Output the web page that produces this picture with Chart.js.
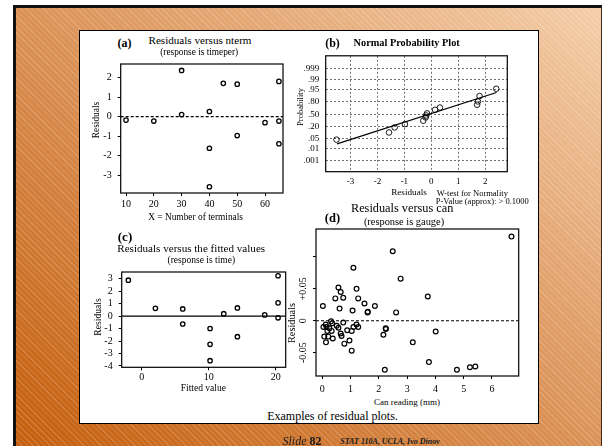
<!DOCTYPE html>
<html><head><meta charset="utf-8">
<script src="https://cdn.jsdelivr.net/npm/chart.js@4.4.0/dist/chart.umd.min.js"></script>
<style>
html,body{margin:0;padding:0;background:#fff;}
#root{position:relative;width:602px;height:446px;overflow:hidden;background:#fff;font-family:"Liberation Serif","Times New Roman",serif;color:#000;}
#slide{position:absolute;left:13px;top:5px;width:589px;height:441px;box-sizing:border-box;border-left:3px solid #111;border-top:3px solid #111;border-right:1px solid #3a2a20;
background:repeating-linear-gradient(45deg, rgba(255,255,255,0.17) 0px, rgba(255,255,255,0.17) 1px, rgba(255,255,255,0) 1px, rgba(255,255,255,0) 4px),
linear-gradient(to top right, #C55E0C 0%, #DB9257 50%, #F4CDA8 100%);}
#panel{position:absolute;left:79px;top:30px;width:460px;height:394px;box-sizing:border-box;background:#fff;border:1px solid #000;}
canvas{position:absolute;}
.t{position:absolute;white-space:nowrap;line-height:1;transform:translate(-50%,-50%);}
.r{transform:translate(-50%,-50%) rotate(-90deg);}
.b{font-weight:bold;}
</style></head>
<body>
<div id="root">
<div id="slide"></div>
<div id="panel"></div>

<canvas id="cA" width="196" height="162" style="left:96px;top:52px"></canvas>
<canvas id="cB" width="220" height="146" style="left:300px;top:44px"></canvas>
<canvas id="cC" width="196" height="124" style="left:96px;top:260px"></canvas>
<canvas id="cD" width="234" height="174" style="left:296px;top:222px"></canvas>

<div class="t b" style="left:124.5px;top:42.5px;font-size:12px">(a)</div>
<div class="t" style="left:200px;top:40.7px;font-size:11.1px">Residuals versus nterm</div>
<div class="t" style="left:199.2px;top:53.3px;font-size:9.3px">(response is timeper)</div>
<div class="t r" style="left:97px;top:120px;font-size:9.4px">Residuals</div>
<div class="t" style="left:195.6px;top:217.5px;font-size:9.4px">X = Number of terminals</div>

<div class="t b" style="left:332.5px;top:42.7px;font-size:12px">(b)</div>
<div class="t b" style="left:406.7px;top:42.7px;font-size:10.3px">Normal Probability Plot</div>
<div class="t r" style="left:300px;top:106.7px;font-size:8.5px">Probability</div>
<div class="t" style="left:409px;top:192.7px;font-size:9.2px">Residuals</div>
<div class="t" style="left:472.3px;top:192.7px;font-size:8.5px">W-test for Normality</div>
<div class="t" style="left:482.3px;top:201px;font-size:8.5px">P-Value (approx): &gt; 0.1000</div>

<div class="t b" style="left:125px;top:235.7px;font-size:13px">(c)</div>
<div class="t" style="left:191.2px;top:248.7px;font-size:11.1px">Residuals versus the fitted values</div>
<div class="t" style="left:201.3px;top:261.3px;font-size:9.5px">(response is time)</div>
<div class="t r" style="left:98.3px;top:316.7px;font-size:9.6px">Residuals</div>
<div class="t" style="left:203.3px;top:388.7px;font-size:9.5px">Fitted value</div>

<div class="t" style="left:402.2px;top:208.3px;font-size:12.3px">Residuals versus can</div>
<div class="t b" style="left:332.5px;top:218.3px;font-size:12.5px">(d)</div>
<div class="t" style="left:404px;top:221.7px;font-size:10.4px">(response is gauge)</div>
<div class="t r" style="left:292px;top:323.3px;font-size:10.3px">Residuals</div>
<div class="t" style="left:407px;top:402.3px;font-size:9px">Can reading (mm)</div>

<div class="t" style="left:332.5px;top:416px;font-size:12px">Examples of residual plots.</div>
<div class="t" style="left:302px;top:441px;font-size:12px;color:#1a1a1a"><i>Slide</i> <b>82</b></div>
<div class="t" style="left:390px;top:442px;font-size:8px;font-weight:bold;font-style:italic;color:#1a1a1a">STAT 110A, UCLA, Ivo Dinov</div>
</div>

<script>
// ---------- (a) Residuals versus nterm ----------
const aTerminals = [10, 20, 30, 30, 40, 40, 40, 45, 50, 50, 60, 65, 65, 65];
const aResiduals = [-0.18, -0.23, 2.36, 0.10, 0.26, -1.62, -3.59, 1.70, 1.66, -0.97, -0.31, 1.80, -0.23, -1.39];
const aXTicks = [10, 20, 30, 40, 50, 60];
const aYTicks = [-3, -2, -1, 0, 1, 2];

// ---------- (b) Normal probability plot ----------
const bResiduals   = [-3.52, -1.57, -1.36, -0.98, -0.30, -0.21, -0.19, -0.16, 0.14, 0.32, 1.70, 1.73, 1.79, 2.41];
const bNormalScore = [-1.70, -1.22, -0.88, -0.66, -0.43, -0.21, -0.08, 0.06, 0.30, 0.45, 0.64, 0.86, 1.22, 1.71];
const bFitX = [-3.50, 2.42];
const bFitZ = [-1.99, 1.46];
const bXTicks = [-3, -2, -1, 0, 1, 2];
const bProbTicks = [0.001, 0.01, 0.05, 0.20, 0.50, 0.80, 0.95, 0.99, 0.999];
const bProbLabels = [".001", ".01", ".05", ".20", ".50", ".80", ".95", ".99", ".999"];

// ---------- (c) Residuals versus fitted values ----------
const cFitted    = [-2.0, 2.04, 6.12, 6.12, 10.2, 10.2, 10.2, 12.24, 14.28, 14.28, 18.36, 20.35, 20.35, 20.35];
const cResiduals = [2.89, 0.63, 0.58, -0.63, -0.99, -2.26, -3.58, 0.20, 0.66, -1.65, 0.10, 3.25, 1.07, -0.13];
const cXTicks = [0, 10, 20];
const cYTicks = [-4, -3, -2, -1, 0, 1, 2, 3];

// ---------- (d) Residuals versus can ----------
const dCan = [6.69, 2.49, 1.10, 2.77, 0.57, 0.65, 1.21, 0.46, 0.74, 1.27, 3.73, 0.02, 0.61, 1.07, 1.49, 1.86, 1.60, 1.61, 2.61,
  0.31, 0.74, 0.51, 0.04, 0.12, 0.25, 0.57, 0.33, 0.18, 0.07, 0.21, 0.37, 0.13, 0.65, 0.68, 0.78, 0.88, 1.04, 1.10, 1.21, 1.27,
  0.96, 1.04, 2.16, 2.24, 2.25, 2.21, 3.20, 4.01, 3.77, 4.76, 5.22, 5.41, 0.35, 0.15];
const dResiduals = [0.132, 0.109, 0.083, 0.066, 0.052, 0.045, 0.050, 0.035, 0.036, 0.035, 0.038, 0.023, 0.019, 0.016, 0.027, 0.023, 0.013, 0.014, 0.013,
  -0.001, -0.003, -0.008, -0.010, -0.006, -0.012, -0.011, -0.016, -0.016, -0.025, -0.025, -0.028, -0.034, -0.020, -0.024, -0.036, -0.015, -0.016, -0.010, -0.006, -0.010,
  -0.031, -0.047, -0.022, -0.012, -0.013, -0.077, -0.034, -0.017, -0.065, -0.077, -0.073, -0.072, -0.004, -0.010];
const dXTicks = [0, 1, 2, 3, 4, 5, 6];
const dYTicks = [-0.05, 0, 0.05, 0.10];
const dYLabels = ["-0.05", "0", "+0.05", ""];

// ---------- helpers ----------
function probit(p){
  const a=[-3.969683028665376e+01,2.209460984245205e+02,-2.759285104469687e+02,1.383577518672690e+02,-3.066479806614716e+01,2.506628277459239e+00];
  const b=[-5.447609879822406e+01,1.615858368580409e+02,-1.556989798598866e+02,6.680131188771972e+01,-1.328068155288572e+01];
  const c=[-7.784894002430293e-03,-3.223964580411365e-01,-2.400758277161838e+00,-2.549732539343734e+00,4.374664141464968e+00,2.938163982698783e+00];
  const d=[7.784695709041462e-03,3.224671290700398e-01,2.445134137142996e+00,3.754408661907416e+00];
  const pl=0.02425, ph=1-pl; let q,r;
  if(p<pl){q=Math.sqrt(-2*Math.log(p));return (((((c[0]*q+c[1])*q+c[2])*q+c[3])*q+c[4])*q+c[5])/((((d[0]*q+d[1])*q+d[2])*q+d[3])*q+1);}
  if(p>ph){q=Math.sqrt(-2*Math.log(1-p));return -(((((c[0]*q+c[1])*q+c[2])*q+c[3])*q+c[4])*q+c[5])/((((d[0]*q+d[1])*q+d[2])*q+d[3])*q+1);}
  q=p-0.5;r=q*q;return (((((a[0]*r+a[1])*r+a[2])*r+a[3])*r+a[4])*r+a[5])*q/(((((b[0]*r+b[1])*r+b[2])*r+b[3])*r+b[4])*r+1);
}
const pts = (xs, ys) => xs.map((x, i) => ({x: x, y: ys[i]}));
const fixedTicks = vals => s => { s.ticks = vals.map(v => ({value: v})); };

Chart.defaults.font.family = "'Liberation Serif','Times New Roman',serif";
Chart.defaults.color = '#000';

const framePlugin = {
  id: 'frame',
  afterDraw(chart) {
    const a = chart.chartArea, c = chart.ctx;
    c.save(); c.strokeStyle = '#000'; c.lineWidth = 1.2;
    c.strokeRect(a.left, a.top, a.right - a.left, a.bottom - a.top);
    c.restore();
  }
};

function scatterSet(data, r, w) {
  return {type: 'scatter', data: data, pointRadius: r, borderWidth: w, borderColor: '#000',
    backgroundColor: 'rgba(0,0,0,0)', pointStyle: 'circle', order: 1};
}
function lineSet(data, dash, w) {
  return {type: 'line', data: data, borderColor: '#000', borderWidth: w, borderDash: dash,
    pointRadius: 0, fill: false, tension: 0, order: 2};
}

function tickGrid() {
  return {display: true, drawOnChartArea: false, drawTicks: true, tickLength: 3, tickColor: '#000', tickWidth: 1, color: '#000', lineWidth: 1};
}
function dashGrid() {
  return {display: true, drawOnChartArea: true, drawTicks: false, color: '#6e6e6e', lineWidth: 1};
}

function build(id, o) {
  return new Chart(document.getElementById(id), {
    type: 'scatter',
    data: {datasets: o.datasets},
    options: {
      responsive: false, animation: false, events: [],
      layout: {padding: {top: o.pt, right: o.pr, left: 0, bottom: 0}},
      plugins: {legend: {display: false}, tooltip: {enabled: false}},
      scales: {
        x: {
          type: 'linear', min: o.xmin, max: o.xmax,
          afterBuildTicks: fixedTicks(o.xticks),
          afterFit: s => { s.height = o.xh; },
          ticks: Object.assign({font: {size: o.xfs}, padding: o.xpad, color: '#000', maxRotation: 0, autoSkip: false,
            callback: v => String(v)}, o.xtickExtra || {}),
          grid: o.dashed ? dashGrid() : tickGrid(),
          border: o.dashed ? {display: false, dash: [2, 2]} : {display: false}
        },
        y: {
          type: 'linear', min: o.ymin, max: o.ymax,
          afterBuildTicks: fixedTicks(o.yticks),
          afterFit: s => { s.width = o.yw; },
          ticks: Object.assign({font: {size: o.yfs}, padding: o.ypad, color: '#000', autoSkip: false,
            callback: v => String(v)}, o.ytickExtra || {}),
          grid: o.dashed ? dashGrid() : tickGrid(),
          border: o.dashed ? {display: false, dash: [2, 2]} : {display: false}
        }
      }
    },
    plugins: [framePlugin]
  });
}

// (a)
const A = {xmin: 8.09, xmax: 66.47, ymin: -3.91, ymax: 2.69};
build('cA', Object.assign(A, {
  pt: 7, pr: 9, yw: 24.7, xh: 21, xfs: 10, yfs: 10, xpad: 2, ypad: 6,
  xticks: aXTicks, yticks: aYTicks,
  datasets: [
    scatterSet(pts(aTerminals, aResiduals), 2.2, 1.3),
    lineSet([{x: A.xmin, y: 0}, {x: A.xmax, y: 0}], [3, 2], 1.1)
  ]
}));

// (b)
const bZTicks = bProbTicks.map(probit);
const B = {xmin: -3.92, xmax: 2.82, ymin: -3.85, ymax: 3.92};
build('cB', Object.assign(B, {
  pt: 6.7, pr: 12.7, yw: 25.7, xh: 18.3, xfs: 9, yfs: 9, xpad: 4.6, ypad: 6.4, dashed: true,
  xticks: bXTicks, yticks: bZTicks,
  ytickExtra: {callback: (v, i) => bProbLabels[i]},
  datasets: [
    scatterSet(pts(bResiduals, bNormalScore), 2.8, 0.9),
    lineSet(pts(bFitX, bFitZ), [], 1.3)
  ]
}));

// (c)
const C = {xmin: -2.99, xmax: 21.49, ymin: -4.11, ymax: 3.55};
build('cC', Object.assign(C, {
  pt: 6.7, pr: 6.3, yw: 25.7, xh: 16.7, xfs: 10, yfs: 10, xpad: 1, ypad: 6,
  xticks: cXTicks, yticks: cYTicks,
  datasets: [
    scatterSet(pts(cFitted, cResiduals), 2.2, 1.3),
    lineSet([{x: C.xmin, y: 0}, {x: C.xmax, y: 0}], [], 1.2)
  ]
}));

// (d)
const D = {xmin: -0.223, xmax: 6.945, ymin: -0.0868, ymax: 0.1439};
build('cD', Object.assign(D, {
  pt: 7, pr: 11.3, yw: 20, xh: 20, xfs: 10, yfs: 10, xpad: 4, ypad: -2,
  xticks: dXTicks, yticks: dYTicks,
  ytickExtra: {minRotation: 90, maxRotation: 90, crossAlign: 'center', callback: (v, i) => dYLabels[i]},
  datasets: [
    scatterSet(pts(dCan, dResiduals), 2.4, 1.2),
    lineSet([{x: D.xmin, y: 0}, {x: D.xmax, y: 0}], [3, 2], 1.1)
  ]
}));
</script>
</body></html>
